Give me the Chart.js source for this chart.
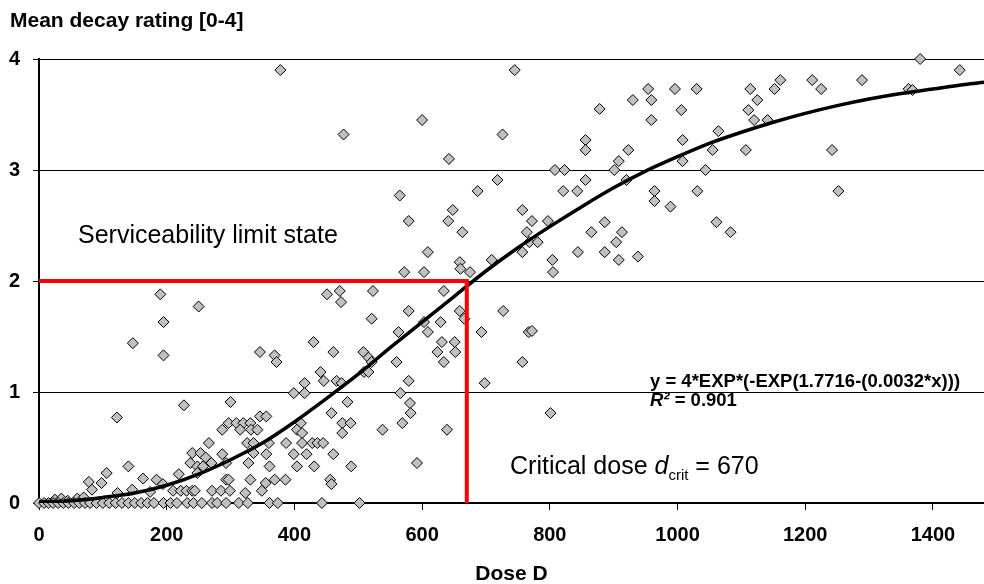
<!DOCTYPE html>
<html>
<head>
<meta charset="utf-8">
<script src="https://cdn.jsdelivr.net/npm/chart.js@4.4.1/dist/chart.umd.min.js"></script>
<style>
  html, body { margin: 0; padding: 0; background: #fff; }
  #wrap { width: 984px; height: 584px; position: relative; }
</style>
</head>
<body>
<div id="wrap"><canvas id="chart" width="984" height="584"></canvas></div>
<script>
// Observed mean decay ratings against dose (rated above zero)
const doses = [
  122, 140, 106, 78, 98, 83, 163, 123, 146, 147, 25, 35, 45, 60, 70,
  378, 477, 600, 642, 565, 687, 648, 641, 579, 663, 609, 659, 660, 675, 572, 603,
  190, 250, 195, 195, 451, 471, 473, 523, 634, 579, 659, 666, 521, 603, 629, 609,
  563, 631, 651, 624, 652, 634, 560, 430, 346, 369, 372, 461, 508, 516, 521, 509,
  516, 441, 446, 466, 474, 579, 566, 416, 399, 416, 483, 458, 475, 488, 475, 538,
  569, 581, 582, 639, 592, 227, 300, 346, 356, 410, 404, 412, 287, 297, 309, 320,
  331, 315, 332, 342, 266, 326, 336, 360, 387, 412, 428, 436, 445, 419, 399, 461,
  356, 336, 287, 240, 253, 261, 237, 248, 257, 270, 293, 328, 361, 404, 431, 489,
  219, 248, 293, 297, 331, 355, 369, 386, 456, 458, 184, 194, 210, 222, 231, 240,
  244, 271, 285, 299, 323, 349, 174,
  745, 726, 878, 954, 930, 959, 959, 856, 856, 923, 908, 901, 808, 823, 920, 856,
  821, 843, 718, 757, 772, 797, 764, 768, 781, 757, 709, 804, 844, 886, 865, 886,
  913, 904, 908, 938, 964, 964, 805, 698, 727, 693, 767, 772, 757, 801,
  1380, 1442, 1289, 1211, 1161, 996, 1030, 1114, 1152, 1225, 1362, 1368, 1125,
  1006, 1111, 1120, 1141, 1064, 1008, 1055, 1107, 1242, 1008, 1044, 1031, 1252,
  989, 1061, 1083
];
const ratings = [
  0.77, 0.33, 0.27, 0.19, 0.18, 0.12, 0.22, 0.09, 0.12, 1.44, 0.03, 0.04, 0.02, 0.04, 0.05,
  3.90, 3.32, 3.45, 3.10, 2.77, 2.81, 2.64, 2.54, 2.54, 2.44, 2.26, 2.17, 2.11, 2.08, 2.08, 2.08,
  1.88, 1.77, 1.63, 1.33, 1.88, 1.91, 1.81, 1.91, 1.91, 1.73, 1.73, 1.66, 1.66, 1.63, 1.63, 1.54,
  1.54, 1.45, 1.45, 1.36, 1.36, 1.27, 1.27, 1.45, 1.36, 1.33, 1.27, 1.36, 1.36, 1.31, 1.27, 1.18,
  1.18, 1.18, 1.10, 1.10, 1.08, 1.10, 0.99, 1.08, 0.99, 0.99, 0.91, 0.81, 0.72, 0.72, 0.63, 0.66,
  0.72, 0.90, 0.81, 0.66, 0.36, 0.88, 0.91, 0.78, 0.78, 0.72, 0.66, 0.63, 0.66, 0.72, 0.72, 0.72,
  0.72, 0.66, 0.66, 0.66, 0.54, 0.54, 0.54, 0.54, 0.54, 0.54, 0.54, 0.54, 0.54, 0.44, 0.44, 0.44,
  0.44, 0.45, 0.44, 0.45, 0.45, 0.41, 0.36, 0.33, 0.33, 0.36, 0.36, 0.36, 0.33, 0.33, 0.33, 0.33,
  0.26, 0.27, 0.21, 0.21, 0.21, 0.18, 0.21, 0.21, 0.21, 0.17, 0.21, 0.17, 0.11, 0.11, 0.11, 0.11,
  0.11, 0.11, 0.11, 0.11, 0.09, 0.11, 0.10,
  3.90, 3.32, 3.55, 3.73, 3.63, 3.63, 3.45, 3.27, 3.18, 3.18, 3.08, 3.00, 3.00, 3.00, 2.91, 2.91,
  2.81, 2.81, 2.91, 2.64, 2.54, 2.54, 2.44, 2.35, 2.35, 2.26, 2.19, 2.19, 2.26, 2.26, 2.44, 2.53,
  2.44, 2.35, 2.19, 2.22, 2.81, 2.72, 2.08, 1.08, 1.73, 1.54, 1.54, 1.55, 1.27, 0.81,
  4.00, 3.90, 3.81, 3.81, 3.81, 3.73, 3.73, 3.73, 3.73, 3.73, 3.73, 3.72, 3.63,
  3.54, 3.54, 3.45, 3.45, 3.35, 3.27, 3.18, 3.18, 3.18, 3.08, 3.00, 2.81, 2.81,
  2.67, 2.53, 2.44
];
// Doses whose mean rating is zero
const zeroRatedDoses = [
  0, 8, 15, 22, 30, 38, 46, 55, 63, 72, 80, 90, 100, 110, 120, 130, 140, 150, 160, 170, 180,
  195, 206, 216, 232, 242, 255, 271, 279, 293, 313, 327, 361, 374, 443, 502
];

// Fitted dose-response trend line
const curveDoses = [
  0, 50, 100, 150, 200, 250, 300, 350, 400, 450, 500, 550, 600, 650, 700, 750,
  800, 850, 900, 950, 1000, 1050, 1100, 1150, 1200, 1250, 1300, 1350, 1400, 1450, 1480
];
const curveRatings = [
  0.01, 0.02, 0.05, 0.09, 0.16, 0.26, 0.39, 0.54, 0.73, 0.94, 1.16, 1.40, 1.63, 1.86, 2.09, 2.30,
  2.49, 2.67, 2.84, 2.99, 3.12, 3.24, 3.34, 3.43, 3.51, 3.58, 3.64, 3.69, 3.73, 3.77, 3.79
];

// Critical dose at the serviceability limit
const critDose = 670;
const critRating = 2;

const xTickValues = [0, 200, 400, 600, 800, 1000, 1200, 1400];
const yTickValues = [0, 1, 2, 3, 4];

const FONT = '"Liberation Sans", Arial, Helvetica, sans-serif';

const observations = doses.map((d, i) => ({ x: d, y: ratings[i] }))
  .concat(zeroRatedDoses.map(d => ({ x: d, y: 0 })));
const trend = curveDoses.map((d, i) => ({ x: d, y: curveRatings[i] }));
const limitLines = [
  { x: 0, y: critRating },
  { x: critDose, y: critRating },
  { x: critDose, y: 0 }
];

const textLayer = {
  id: 'textLayer',
  afterDraw(chart) {
    const ctx = chart.ctx;
    ctx.save();
    ctx.fillStyle = '#000';
    ctx.textBaseline = 'alphabetic';
    ctx.textAlign = 'left';

    ctx.font = `bold 21px ${FONT}`;
    ctx.fillText('Mean decay rating [0-4]', 10, 27);

    ctx.font = `25px ${FONT}`;
    ctx.fillText('Serviceability limit state', 78, 243);

    // "Critical dose d_crit = 670"
    let x = 510;
    const y = 474;
    ctx.font = `25px ${FONT}`;
    ctx.fillText('Critical dose ', x, y);
    x += ctx.measureText('Critical dose ').width;
    ctx.font = `italic 25px ${FONT}`;
    ctx.fillText('d', x, y);
    x += ctx.measureText('d').width;
    ctx.font = `15px ${FONT}`;
    ctx.fillText('crit', x, y + 6);
    x += ctx.measureText('crit').width;
    ctx.font = `25px ${FONT}`;
    ctx.fillText(' = ' + critDose, x, y);

    // trend line equation
    ctx.font = `bold 18.5px ${FONT}`;
    ctx.fillText('y = 4*EXP*(-EXP(1.7716-(0.0032*x)))', 650, 387);
    ctx.font = `italic bold 18.5px ${FONT}`;
    ctx.fillText('R\u00B2', 650, 406);
    const rw = ctx.measureText('R\u00B2').width;
    ctx.font = `bold 18.5px ${FONT}`;
    ctx.fillText(' = 0.901', 650 + rw, 406);
    ctx.restore();
  }
};

new Chart(document.getElementById('chart'), {
  type: 'scatter',
  data: {
    datasets: [
      {
        label: 'limit',
        data: limitLines,
        showLine: true,
        borderColor: '#ff0000',
        borderWidth: 4,
        pointRadius: 0,
        tension: 0,
        borderJoinStyle: 'miter',
        order: 0
      },
      {
        label: 'trend',
        data: trend,
        showLine: true,
        borderColor: '#000',
        borderWidth: 3.5,
        pointRadius: 0,
        cubicInterpolationMode: 'monotone',
        order: 1
      },
      {
        label: 'observed',
        data: observations,
        pointStyle: 'rectRot',
        pointRadius: 5.5,
        pointHoverRadius: 5.5,
        backgroundColor: '#c0c0c0',
        borderColor: '#000',
        borderWidth: 1,
        clip: false,
        order: 2
      }
    ]
  },
  options: {
    responsive: false,
    devicePixelRatio: 1,
    animation: false,
    events: [],
    layout: { autoPadding: false, padding: { top: 59, right: 0, bottom: 0, left: 0 } },
    plugins: {
      legend: { display: false },
      tooltip: { enabled: false },
      title: { display: false }
    },
    scales: {
      x: {
        type: 'linear',
        position: 'bottom',
        min: 0,
        max: 1480,
        afterBuildTicks(scale) { scale.ticks = xTickValues.map(v => ({ value: v })); },
        afterFit(scale) {
          scale.height = 81;
          scale.paddingLeft = 0;
          scale.paddingRight = 0;
        },
        ticks: {
          color: '#000',
          font: { family: FONT, size: 20, weight: 'bold' },
          padding: 13,
          maxRotation: 0,
          autoSkip: false,
          includeBounds: false,
          callback: v => String(v)
        },
        grid: {
          drawOnChartArea: false,
          drawTicks: true,
          tickLength: 7,
          color: '#000',
          lineWidth: 1
        },
        border: { display: true, color: '#000', width: 2 },
        title: {
          display: true,
          text: 'Dose D',
          color: '#000',
          font: { family: FONT, size: 21, weight: 'bold' },
          padding: { top: 0, bottom: -3 }
        }
      },
      y: {
        type: 'linear',
        min: 0,
        max: 4,
        afterBuildTicks(scale) { scale.ticks = yTickValues.map(v => ({ value: v })); },
        afterFit(scale) { scale.width = 39; },
        ticks: {
          color: '#000',
          font: { family: FONT, size: 20, weight: 'bold' },
          padding: 13
        },
        grid: {
          color: '#000',
          lineWidth: 1,
          drawTicks: true,
          tickLength: 6
        },
        border: { display: true, color: '#000', width: 2 }
      }
    }
  },
  plugins: [textLayer]
});
</script>
</body>
</html>
